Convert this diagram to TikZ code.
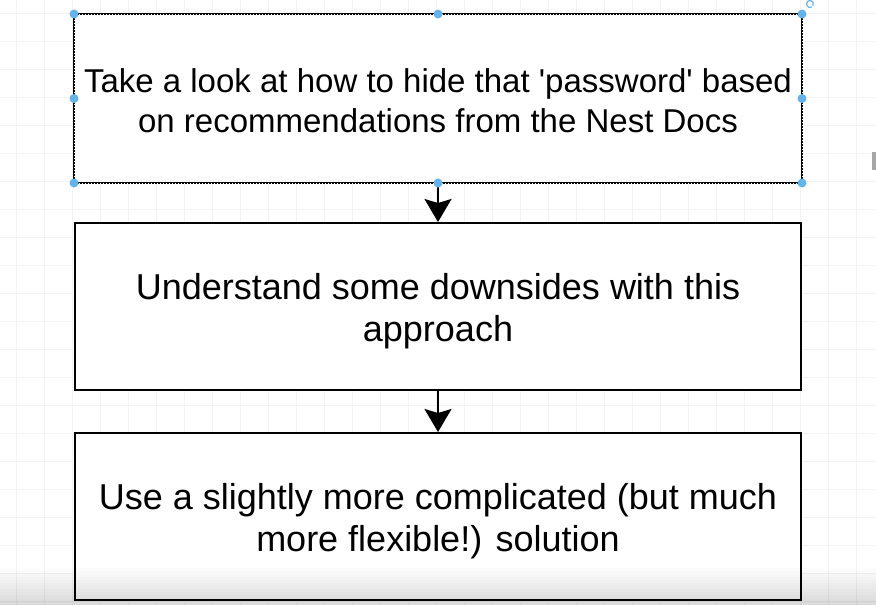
\documentclass[tikz,border=0pt]{standalone}
\usepackage{fontspec}
\setmainfont{Liberation Sans}
\usetikzlibrary{arrows.meta}
\definecolor{gridc}{RGB}{243,243,243}
\definecolor{handle}{RGB}{100,180,235}
\tikzset{
  flowbox/.style={draw=black, line width=2pt, fill=white, minimum width=726pt, minimum height=167pt, inner sep=0pt, anchor=north west},
  boxtext/.style={align=center, inner sep=0pt},
  bigtext/.style={font=\fontsize{36}{42}\selectfont},
  smalltext/.style={font=\fontsize{33}{40}\selectfont},
  flowarrow/.style={line width=2pt, -{Stealth[length=23pt,width=27pt,inset=4pt]}},
  selhandle/.style={circle, fill=handle, inner sep=0pt, minimum size=9pt}
}
\begin{document}
\begin{tikzpicture}[x=1pt,y=-1pt]
\useasboundingbox (0,0) rectangle (876,605);
\fill[white] (0,0) rectangle (876,605);
% grid
\foreach \gx in {16,44,...,876} \draw[gridc, line width=0.8pt] (\gx,0) -- (\gx,605);
\foreach \gy in {13,41,...,605} \draw[gridc, line width=0.8pt] (0,\gy) -- (876,\gy);
% boxes
\node[flowbox, draw=none] (b1) at (74,14) {};
\node[boxtext, smalltext] (t1) at ([yshift=-2pt]b1.center) {Take a look at how to hide that \textquotesingle password\textquotesingle{} based\\on recommendations from the Nest Docs};
\draw[black, line width=2pt] (b1.north west) rectangle (b1.south east);
\draw[white, line width=1pt, dash pattern=on 1pt off 2pt] (b1.north west) rectangle (b1.south east);
\node[flowbox] (b2) at (74,222) {};
\node[boxtext, bigtext] (t2) at ([yshift=-5pt]b2.center) {Understand some downsides with this\\approach};
\node[flowbox] (b3) at (74,432) {};
\node[boxtext, bigtext] (t3) at ([yshift=-5pt]b3.center) {Use a slightly more complicated (but much\\more flexible!) solution};
% arrows
\draw[flowarrow] (b1.south) -- (b2.north);
\draw[flowarrow] (b2.south) -- (b3.north);
% selection handles
\foreach \hp in {b1.north west, b1.north, b1.north east, b1.west, b1.east, b1.south west, b1.south, b1.south east}
  \node[selhandle] at (\hp) {};
\coordinate (rot) at (810,4);
\draw[handle, line width=1.2pt] (rot) ++(60:3.5) arc (60:390:3.5);
% right edge mark
\fill[gray!70] (872,152) rectangle (876,170);
% bottom shading
\foreach \i in {0,...,11} \fill[black, fill opacity=0.011] (0,{568+3*\i}) rectangle (876,605);
\end{tikzpicture}
\end{document}
